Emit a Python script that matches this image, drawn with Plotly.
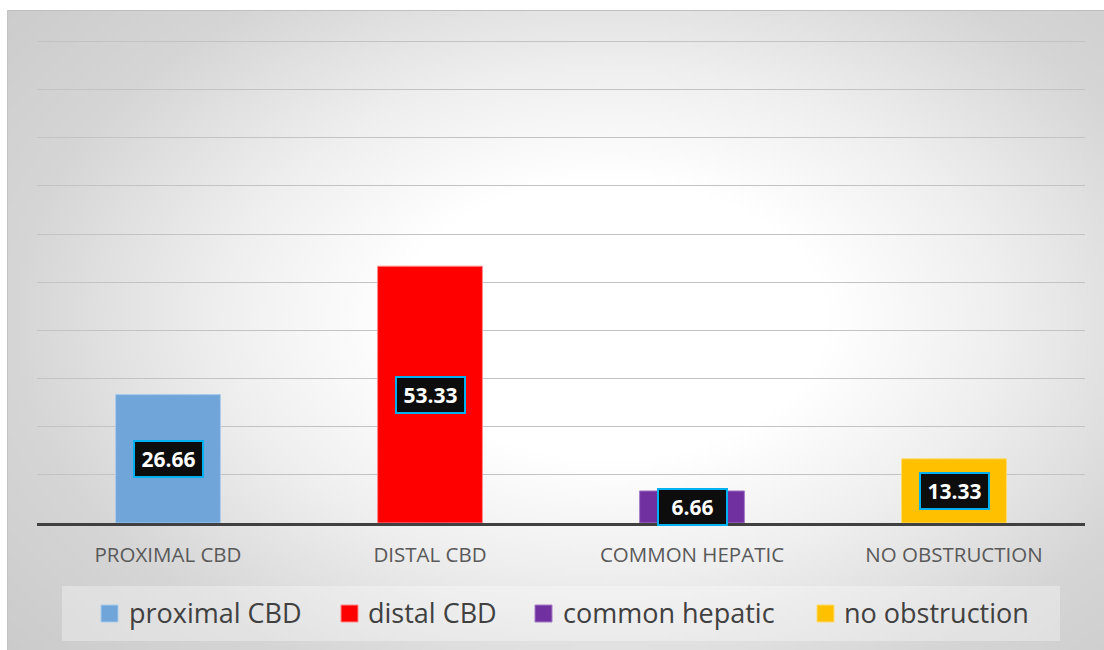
import base64, struct, zlib, math
import plotly.graph_objects as go

# ---------------- data ----------------
categories = ["PROXIMAL CBD", "DISTAL CBD", "COMMON HEPATIC", "NO OBSTRUCTION"]
series_names = ["proximal CBD", "distal CBD", "common hepatic", "no obstruction"]
values = [26.66, 53.33, 6.66, 13.33]
colors = ["#6FA5D9", "#FF0000", "#7030A0", "#FFC000"]
edge_colors = ["#A9CBEB", "#FF8A8A", "#A57CC6", "#FFDB70"]

# ---------------- geometry (pixels) ----------------
W, H = 1104, 650
ML, MR, MT, MB = 37, 19, 40, 127
PW, PH = W - ML - MR, H - MT - MB


def px(x):
    return (x - ML) / PW


def py(y):
    return (H - MB - y) / PH


# ---------------- background radial gradient as PNG ----------------
FX0, FY0, FX1, FY1 = 7, 10, 1104, 650
gw, gh = 276, 160
cx, cy, rx, ry = 610, 320, 600, 390
stops = [(0.0, 255), (0.36, 255), (0.66, 238), (1.0, 213), (1.5, 197)]


def shade(r):
    if r <= stops[0][0]:
        return stops[0][1]
    for (r0, c0), (r1, c1) in zip(stops, stops[1:]):
        if r <= r1:
            t = (r - r0) / (r1 - r0)
            return c0 + (c1 - c0) * t
    return stops[-1][1]


rows = []
for j in range(gh):
    yy = FY0 + (j + 0.5) * (FY1 - FY0) / gh
    row = bytearray()
    for i in range(gw):
        xx = FX0 + (i + 0.5) * (FX1 - FX0) / gw
        r = math.sqrt(((xx - cx) / rx) ** 2 + ((yy - cy) / ry) ** 2)
        row.append(int(round(shade(r))))
    rows.append(row)


def chunk(tag, data):
    return struct.pack(">I", len(data)) + tag + data + struct.pack(">I", zlib.crc32(tag + data) & 0xFFFFFFFF)


raw = b"".join(b"\x00" + bytes(r) for r in rows)
png = (b"\x89PNG\r\n\x1a\n" + chunk(b"IHDR", struct.pack(">IIBBBBB", gw, gh, 8, 0, 0, 0, 0))
       + chunk(b"IDAT", zlib.compress(raw, 9)) + chunk(b"IEND", b""))
bg_uri = "data:image/png;base64," + base64.b64encode(png).decode()

# ---------------- figure ----------------
fig = go.Figure()
for cat, name, v, c, ec in zip(categories, series_names, values, colors, edge_colors):
    fig.add_trace(go.Bar(
        x=[cat], y=[v], name=name, width=0.4,
        marker=dict(color=c, line=dict(color=ec, width=1)),
        showlegend=False, hoverinfo="x+y",
    ))

annotations = []
for cat, v in zip(categories, values):
    annotations.append(dict(
        x=cat, y=v / 2, xref="x", yref="y", text=f"<b>{v:.2f}</b>", showarrow=False,
        font=dict(family="Open Sans", size=21, color="white"),
        bgcolor="#0D0D0D", bordercolor="#00B0F0", borderwidth=2, borderpad=2,
        width=63, height=30, align="center", valign="middle",
    ))

shapes = []
# legend box
LX0, LY0, LX1, LY1 = 62, 586, 1060, 641
shapes.append(dict(type="rect", xref="paper", yref="paper", x0=px(LX0), x1=px(LX1), y0=py(LY1), y1=py(LY0),
                   fillcolor="rgba(255,255,255,0.32)", line=dict(width=0), layer="below"))
sq_x = [101, 341, 535, 817]
txt_x = [127, 366, 561, 842]
for name, c, ec, sx, tx in zip(series_names, colors, edge_colors, sq_x, txt_x):
    shapes.append(dict(type="rect", xref="paper", yref="paper", x0=px(sx), x1=px(sx + 17),
                       y0=py(622), y1=py(605), fillcolor=c, line=dict(color=ec, width=1)))
    annotations.append(dict(
        x=px(tx), y=py(612.5), xref="paper", yref="paper", text=name, showarrow=False,
        xanchor="left", yanchor="middle", font=dict(family="Open Sans", size=27, color="#404040"),
    ))

# frame edge
shapes.append(dict(type="line", xref="paper", yref="paper", x0=px(FX0), x1=px(FX1), y0=py(FY0 + 0.5), y1=py(FY0 + 0.5),
                   line=dict(color="#BFBFBF", width=1)))
shapes.append(dict(type="line", xref="paper", yref="paper", x0=px(FX0 + 0.5), x1=px(FX0 + 0.5), y0=py(FY1), y1=py(FY0),
                   line=dict(color="#C4C4C4", width=1)))

fig.update_layout(
    width=W, height=H,
    margin=dict(l=ML, r=MR, t=MT, b=MB, pad=0),
    paper_bgcolor="white", plot_bgcolor="rgba(0,0,0,0)",
    barmode="overlay",
    showlegend=False,
    font=dict(family="Open Sans", color="#595959"),
    images=[dict(source=bg_uri, xref="paper", yref="paper", x=px(FX0), y=py(FY0),
                 sizex=(FX1 - FX0) / PW, sizey=(FY1 - FY0) / PH, xanchor="left", yanchor="top",
                 sizing="stretch", layer="below")],
    annotations=annotations,
    shapes=shapes,
    xaxis=dict(showline=True, linecolor="#404040", linewidth=3, showgrid=False, ticks="",
               tickfont=dict(family="Open Sans", size=20.5, color="#595959"), ticklabelstandoff=11,
               fixedrange=True),
    yaxis=dict(range=[0, 100.3], dtick=10, tick0=0, showgrid=True, gridcolor="#C3C3C3", gridwidth=1,
               showticklabels=False, zeroline=False, showline=False, ticks="", fixedrange=True),
)

fig.write_html("out.html")
